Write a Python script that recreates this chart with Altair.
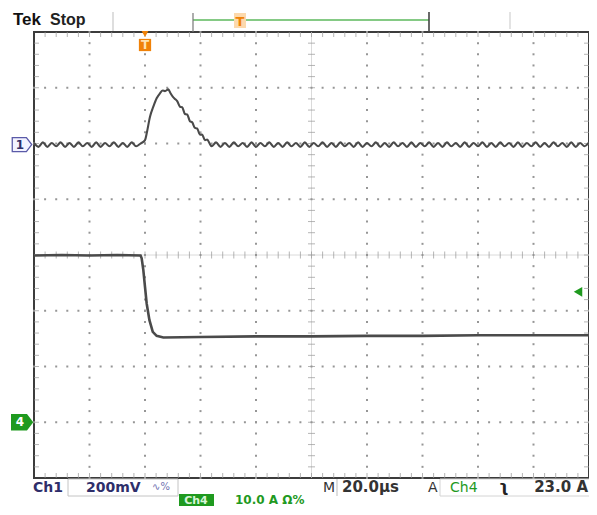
import altair as alt
import pandas as pd

# ---------------- data (screen divisions: x 0..10, y -4..4) ----------------
# Ch1 (200 mV/div) ripple before the pulse, sampled every 0.08 div from t=0
ch1_pre = [2.01, 1.94, 2.02, 1.94, 2.01, 1.95, 2.02, 1.94, 2.01, 1.94,
           2.02, 1.95, 2.01, 1.94, 2.02, 1.94, 2.01, 1.95, 2.02, 1.94,
           2.01, 1.94, 2.02, 1.95, 2.00]
# Ch1 pulse
ch1_pulse_t = [2.00, 2.03, 2.09, 2.15, 2.21, 2.27, 2.32, 2.36, 2.42, 2.46,
               2.50, 2.54, 2.58, 2.63, 2.67, 2.72, 2.76, 2.81, 2.85, 2.90,
               2.94, 2.99, 3.03, 3.08, 3.12, 3.17]
ch1_pulse_v = [2.06, 2.18, 2.48, 2.66, 2.81, 2.90, 2.95, 2.94, 2.97, 2.90,
               2.84, 2.80, 2.76, 2.66, 2.65, 2.53, 2.52, 2.40, 2.38, 2.28,
               2.27, 2.16, 2.16, 2.06, 2.07, 1.99]
# Ch1 ripple after the pulse, every 0.08 div from t=3.20
ch1_post = [1.95, 2.02, 1.94, 2.01, 1.94, 2.02, 1.95, 2.01, 1.94, 2.02,
            1.94, 2.01, 1.95, 2.02, 1.94, 2.01, 1.94, 2.02, 1.95, 2.01,
            1.94, 2.02, 1.94, 2.01, 1.95, 2.02, 1.94, 2.01, 1.94, 2.02,
            1.95, 2.01, 1.94, 2.02, 1.94, 2.01, 1.95, 2.02, 1.94, 2.01,
            1.94, 2.02, 1.95, 2.01, 1.94, 2.02, 1.94, 2.01, 1.95, 2.02,
            1.94, 2.01, 1.94, 2.02, 1.95, 2.01, 1.94, 2.02, 1.94, 2.01,
            1.95, 2.02, 1.94, 2.01, 1.94, 2.02, 1.95, 2.01, 1.94, 2.02,
            1.94, 2.01, 1.95, 2.02, 1.94, 2.01, 1.94, 2.02, 1.95, 2.01,
            1.94, 2.02, 1.94, 2.01, 1.95, 2.02]
SAMPLE = 0.08
POST_START = 3.20

# Ch4 (10 A/div) current step
ch4_t = [0.0, 0.5, 1.0, 1.5, 1.92, 1.94, 1.97, 2.00, 2.03, 2.08, 2.14, 2.21,
         2.33, 3.0, 4.0, 5.0, 6.0, 7.0, 8.0, 9.0, 10.0]
ch4_v = [-0.01, 0.0, -0.01, 0.0, -0.01, -0.06, -0.27, -0.57, -0.87, -1.17,
         -1.38, -1.45, -1.48, -1.47, -1.46, -1.46, -1.45, -1.45, -1.44, -1.44,
         -1.44]

CH1_LEVEL = 1.98     # Ch1 ground marker
CH4_LEVEL = -3.0     # Ch4 ground marker
TRIG_LEVEL = -0.66   # trigger level arrow
TRIG_POS = 2.0       # trigger position

# ---------------- tables ----------------
t1 = [i * SAMPLE for i in range(len(ch1_pre))] + ch1_pulse_t + \
     [POST_START + i * SAMPLE for i in range(len(ch1_post))]
v1 = ch1_pre + ch1_pulse_v + ch1_post
ch1 = pd.DataFrame({"t": t1, "v": v1})
ch4 = pd.DataFrame({"t": ch4_t, "v": ch4_v})

dots = []
for gx in [1, 2, 3, 4, 6, 7, 8, 9]:
    for k in range(41):
        dots.append({"t": gx, "v": -4 + k * 0.2})
for gy in [-3, -2, -1, 1, 2, 3]:
    for k in range(51):
        dots.append({"t": k * 0.2, "v": gy})
dots = pd.DataFrame(dots)

hticks = []  # horizontal tick segments (on vertical lines)
vticks = []  # vertical tick segments (on horizontal lines)
for k in range(1, 40):
    y = -4 + k * 0.2
    hticks.append({"t": 5, "v": y, "s": 7})
    hticks.append({"t": 0.045, "v": y, "s": 5})
    hticks.append({"t": 9.955, "v": y, "s": 5})
for k in range(1, 50):
    x = k * 0.2
    vticks.append({"t": x, "v": 0, "s": 7})
    vticks.append({"t": x, "v": 3.955, "s": 5})
    vticks.append({"t": x, "v": -3.955, "s": 5})
hticks = pd.DataFrame(hticks)
vticks = pd.DataFrame(vticks)

cross_v = pd.DataFrame({"t": [5], "v": [-4], "v2": [4]})
cross_h = pd.DataFrame({"t": [0], "t2": [10], "v": [0]})

XS = alt.Scale(domain=[0, 10], nice=False, zero=False)
YS = alt.Scale(domain=[-4, 4], nice=False, zero=False)
X = alt.X("t:Q", scale=XS, axis=None)
Y = alt.Y("v:Q", scale=YS, axis=None)

GRID = "#969696"
NAVY = "#2e2e6a"
GREEN = "#1f9a1f"
ORANGE = "#f08208"

layers = []
# faint crosshair lines
layers.append(alt.Chart(cross_v).mark_rule(color="#dadada", strokeWidth=1).encode(
    x=X, y=Y, y2="v2:Q"))
layers.append(alt.Chart(cross_h).mark_rule(color="#dadada", strokeWidth=1).encode(
    x=X, x2="t2:Q", y=Y))
layers.append(alt.Chart(dots).mark_square(size=4, color=GRID, opacity=1).encode(x=X, y=Y))
layers.append(alt.Chart(hticks).mark_tick(orient="horizontal", color=GRID, thickness=1)
              .encode(x=X, y=Y, size=alt.Size("s:Q", scale=None, legend=None)))
layers.append(alt.Chart(vticks).mark_tick(orient="vertical", color=GRID, thickness=1)
              .encode(x=X, y=Y, size=alt.Size("s:Q", scale=None, legend=None)))

layers.append(alt.Chart(ch4).mark_line(color="#4a4a4a", strokeWidth=2.6)
              .encode(x=X, y=Y))
layers.append(alt.Chart(ch1).mark_line(color="#4a4a4a", strokeWidth=2.1, interpolate="monotone")
              .encode(x=X, y=Y))

# trigger position marker
layers.append(alt.Chart().mark_point(shape="triangle-down", filled=True, color=ORANGE, size=45, opacity=1)
              .encode(x=alt.datum(TRIG_POS), y=alt.value(2)))
layers.append(alt.Chart().mark_square(color=ORANGE, size=150, opacity=1, cornerRadius=3)
              .encode(x=alt.datum(TRIG_POS), y=alt.value(13)))
layers.append(alt.Chart().mark_text(text="T", color="#ffe2b0", fontSize=12, fontWeight="bold",
                                    font="DejaVu Sans", baseline="middle")
              .encode(x=alt.datum(TRIG_POS), y=alt.value(13)))

# trigger level arrow
layers.append(alt.Chart().mark_point(shape="triangle-left", filled=True, color=GREEN, size=95, opacity=1)
              .encode(x=alt.value(544), y=alt.datum(TRIG_LEVEL)))

# channel ground markers
ARROW = "M-1,-0.72 H0.45 L1,0 L0.45,0.72 H-1 Z"
layers.append(alt.Chart().mark_point(shape=ARROW, filled=True, fill="#f2f2ff", stroke="#5a5aa8",
                                     strokeWidth=1.3, size=380, opacity=1)
              .encode(x=alt.value(-12), y=alt.datum(CH1_LEVEL)))
layers.append(alt.Chart().mark_text(text="1", color=NAVY, fontSize=12, fontWeight="bold",
                                    font="DejaVu Sans", baseline="middle")
              .encode(x=alt.value(-14), y=alt.datum(CH1_LEVEL)))
layers.append(alt.Chart().mark_point(shape=ARROW, filled=True, fill=GREEN, stroke=GREEN,
                                     size=400, opacity=1)
              .encode(x=alt.value(-12), y=alt.datum(CH4_LEVEL)))
layers.append(alt.Chart().mark_text(text="4", color="white", fontSize=12, fontWeight="bold",
                                    font="DejaVu Sans", baseline="middle")
              .encode(x=alt.value(-14), y=alt.datum(CH4_LEVEL)))


def txt(s, x, y, color="#222", size=14, weight="bold", align="left", font="DejaVu Sans"):
    return alt.Chart().mark_text(text=s, color=color, fontSize=size, fontWeight=weight,
                                 align=align, baseline="alphabetic", font=font).encode(
        x=alt.value(x), y=alt.value(y))


def vrule(x, y1, y2, color, w=1.2):
    return alt.Chart().mark_rule(color=color, strokeWidth=w).encode(
        x=alt.value(x), y=alt.value(y1), y2=alt.value(y2))


def box(x1, x2, y1, y2, stroke=None, fill=None):
    props = {}
    if stroke:
        props["stroke"] = stroke
        props["strokeWidth"] = 1
    if fill:
        props["fill"] = fill
        props["fillOpacity"] = 1
    else:
        props["fillOpacity"] = 0
    return alt.Chart().mark_rect(**props).encode(
        x=alt.value(x1), x2=alt.value(x2), y=alt.value(y1), y2=alt.value(y2))


# header
layers.append(txt("Tek", -21, -7, color="#111", size=17, font="Liberation Sans"))
layers.append(txt("Stop", 16, -7, color="#222", size=16, font="Liberation Sans"))
layers.append(vrule(79, -20, -1, "#c8c8c8"))
layers.append(alt.Chart().mark_rule(color="#5cb85c", strokeWidth=1.3).encode(
    x=alt.value(159), x2=alt.value(395), y=alt.value(-12)))
layers.append(vrule(159, -19, 0, "#777"))
layers.append(vrule(395, -20, 0, "#444", 1.6))
layers.append(box(200, 212, -19, -4, fill="#fcd9ad"))
layers.append(txt("T", 206, -6, color=ORANGE, size=13, align="center"))
layers.append(vrule(476, -20, -3, "#d0d0d0"))

# footer
layers.append(box(34, 144, 447, 464, stroke="#c4c4c4"))
layers.append(box(406, 556, 447, 464, stroke="#d4d4d4"))
layers.append(txt("Ch1", -1, 460, color=NAVY, size=14))
layers.append(txt("200mV", 52, 460, color=NAVY, size=14))
layers.append(txt("∿%", 118, 458, color="#7070b0", size=10, weight="normal"))
layers.append(txt("M", 289, 460, color="#333", size=14, weight="normal"))
layers.append(vrule(303, 447, 464, "#c8c8c8"))
layers.append(txt("20.0µs", 308, 460, color="#333", size=15))
layers.append(txt("A", 394, 460, color="#333", size=14, weight="normal"))
layers.append(txt("Ch4", 416, 460, color=GREEN, size=14, weight="normal"))
layers.append(txt("ʅ", 465, 460, color="#222", size=16))
layers.append(txt("23.0 A", 554, 460, color="#333", size=15, align="right"))
layers.append(box(145, 180, 462, 474, fill=GREEN))
layers.append(txt("Ch4", 162, 472, color="#d8f5d8", size=11, align="center"))
layers.append(txt("10.0 A Ω%", 201, 472, color=GREEN, size=12))

chart = alt.layer(*layers).properties(
    width=555, height=446,
    padding={"left": 26, "top": 24, "right": 0, "bottom": 29},
    autosize="none", background="white",
).configure_view(stroke="#3c3c3c", strokeWidth=2)

chart.save("out.html", embed_options={"renderer": "svg", "actions": False})
